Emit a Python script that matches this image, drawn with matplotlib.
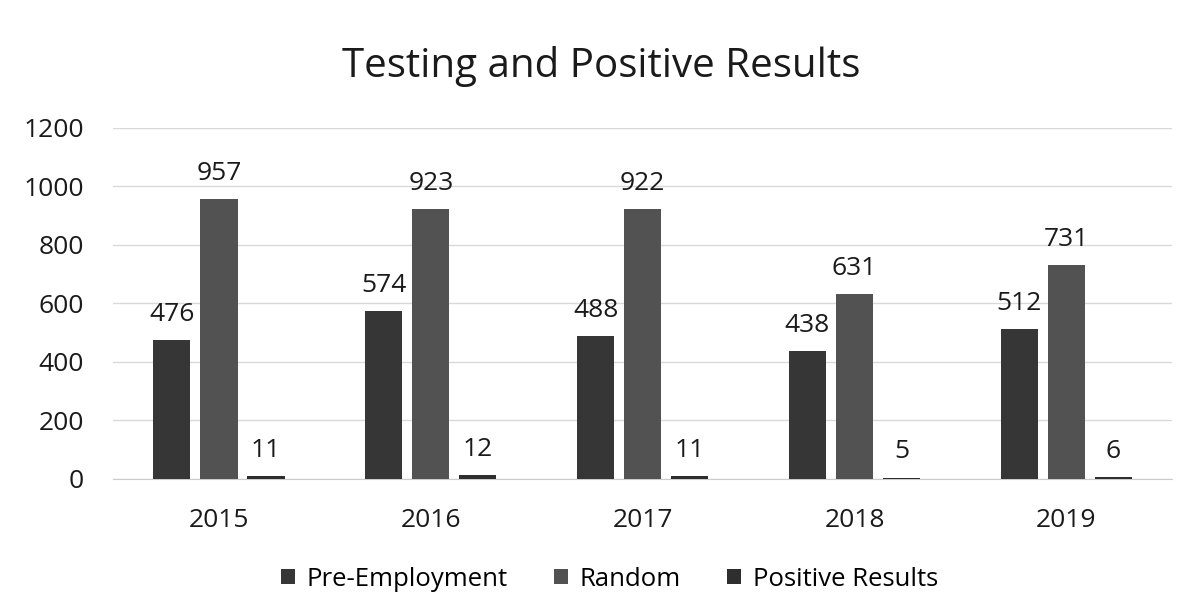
import numpy as np
import matplotlib
matplotlib.use("Agg")
import matplotlib.pyplot as plt

plt.rcParams['font.family'] = ['Open Sans', 'DejaVu Sans']

years = ['2015', '2016', '2017', '2018', '2019']
pre_employment = [476, 574, 488, 438, 512]
random_tests = [957, 923, 922, 631, 731]
positive = [11, 12, 11, 5, 6]

series = [
    ('Pre-Employment', pre_employment, '#363636'),
    ('Random', random_tests, '#525252'),
    ('Positive Results', positive, '#2e2e2e'),
]

fig = plt.figure(figsize=(11.95, 6.13), dpi=100)
ax = fig.add_axes([0.0946, 0.2186, 0.8864, 0.5726])

x = np.arange(len(years))
width = 0.175
step = 0.222

for i, (name, vals, col) in enumerate(series):
    pos = x + (i - 1) * step
    ax.bar(pos, vals, width, color=col, label=name, zorder=3)
    for xp, v in zip(pos, vals):
        ax.text(xp, v + 45, str(v), ha='center', va='bottom',
                fontsize=19, color='#1a1a1a')

ax.set_xlim(-0.5, len(years) - 0.5)
ax.set_ylim(0, 1200)
ax.set_yticks(range(0, 1201, 200))
ax.set_xticks(x)
ax.set_xticklabels(years)
ax.tick_params(axis='both', length=0, labelsize=19, colors='#1a1a1a')
ax.tick_params(axis='y', pad=21)
ax.tick_params(axis='x', pad=21)
ax.yaxis.grid(True, color='#d9d9d9', linewidth=1, zorder=0)
for s in ['top', 'right', 'left']:
    ax.spines[s].set_visible(False)
ax.spines['bottom'].set_color('#cccccc')

fig.text(0.503, 0.874, 'Testing and Positive Results', ha='center', va='baseline',
         fontsize=29, color='#1a1a1a')

fig.legend(loc='center', bbox_to_anchor=(0.51, 0.055), ncol=3, frameon=False,
           fontsize=18.5, handlelength=0.55, handleheight=0.55, handletextpad=0.45,
           columnspacing=1.8)

fig.savefig('out.png', dpi=100)
